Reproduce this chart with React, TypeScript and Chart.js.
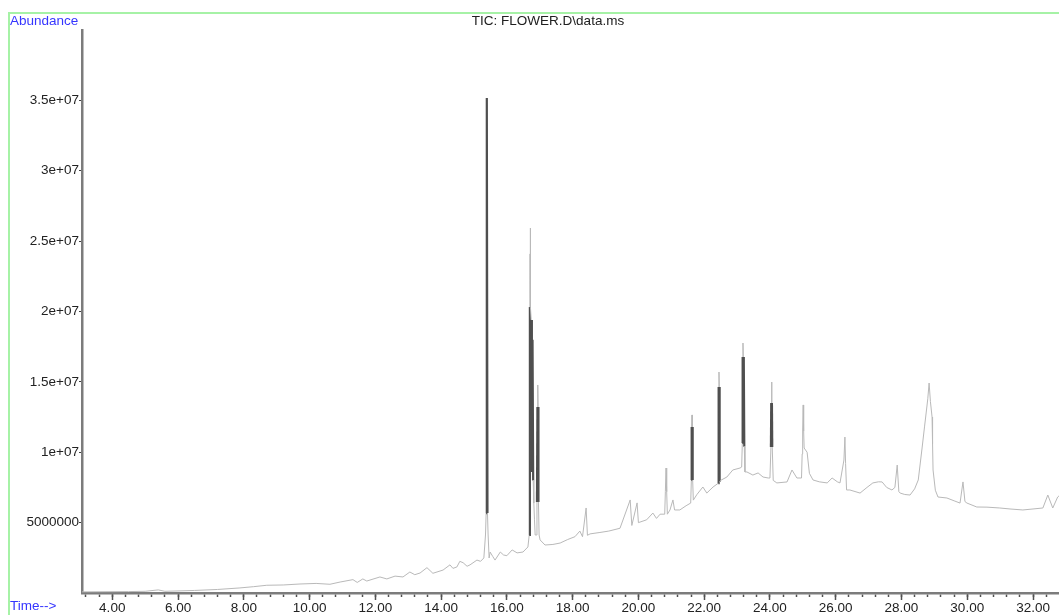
import React, { useEffect, useRef } from 'react';
import { Chart, registerables } from 'chart.js';

Chart.register(...registerables);

// Retention time (min)
const retentionTimes = [
  3.08, 4.5, 5.0, 5.4, 5.6, 6.5, 7.2, 7.88, 8.3, 8.7, 9.2, 9.71, 10.2, 10.62, 10.93, 11.32, 11.45, 11.62, 11.74,
  12.14, 12.35, 12.6, 12.84, 13.05, 13.2, 13.36, 13.57, 13.75, 14.06, 14.27, 14.36, 14.48, 14.57, 14.67, 14.79,
  14.88, 15.09, 15.2, 15.3, 15.35, 15.37, 15.39, 15.41, 15.43, 15.46, 15.49, 15.57, 15.64, 15.8, 15.9, 16.0,
  16.16, 16.31, 16.49, 16.64, 16.68, 16.7, 16.703, 16.706, 16.71, 16.714, 16.718, 16.722, 16.74, 16.76, 16.78,
  16.8, 16.82, 16.84, 16.86, 16.9, 16.915, 16.93, 16.94, 16.95, 16.96, 16.98, 17.01, 17.16, 17.4, 17.62, 17.85,
  18.07, 18.22, 18.3, 18.41, 18.45, 18.53, 18.83, 19.1, 19.44, 19.75, 19.8, 19.96, 20.0, 20.05, 20.25, 20.44,
  20.55, 20.66, 20.8, 20.82, 20.84, 20.86, 20.88, 20.96, 21.05, 21.1, 21.26, 21.45, 21.59, 21.61, 21.62, 21.63,
  21.64, 21.65, 21.67, 21.78, 21.96, 22.08, 22.27, 22.43, 22.44, 22.45, 22.46, 22.47, 22.5, 22.69, 22.87, 23.09,
  23.14, 23.16, 23.17, 23.18, 23.19, 23.2, 23.21, 23.22, 23.24, 23.3, 23.48, 23.64, 23.79, 23.95, 24.0, 24.03,
  24.04, 24.05, 24.06, 24.07, 24.1, 24.21, 24.52, 24.67, 24.82, 24.96, 24.98, 24.995, 25.01, 25.025, 25.04,
  25.13, 25.2, 25.31, 25.5, 25.74, 25.89, 26.05, 26.13, 26.25, 26.28, 26.3, 26.33, 26.43, 26.74, 26.95, 27.13,
  27.3, 27.41, 27.55, 27.71, 27.8, 27.87, 27.92, 27.96, 28.1, 28.26, 28.4, 28.51, 28.63, 28.7, 28.75, 28.8,
  28.84, 28.88, 28.93, 28.945, 28.96, 29.03, 29.11, 29.38, 29.6, 29.78, 29.87, 29.93, 29.99, 30.29, 30.6, 30.99,
  31.3, 31.69, 32.0, 32.3, 32.45, 32.6, 32.75, 32.79,
];

// Total ion current abundance (millions of counts)
const abundanceMillions = [
  0.08, 0.1, 0.12, 0.22, 0.12, 0.18, 0.25, 0.36, 0.45, 0.55, 0.57, 0.64, 0.68, 0.62, 0.78, 0.95, 0.75, 1.0, 0.85,
  1.14, 1.0, 1.2, 1.14, 1.49, 1.3, 1.42, 1.8, 1.4, 1.63, 2.0, 1.75, 1.85, 2.25, 2.15, 1.9,
  2.0, 2.34, 2.25, 2.49, 4.12, 5.68, 35.17, 5.68, 4.12, 2.49, 2.91, 2.6, 2.34, 2.91, 2.7, 2.65,
  3.06, 2.85, 2.91, 3.27, 4.12, 20.32, 22.17, 24.09, 25.93, 24.09, 22.17, 20.32, 19.4, 8.6, 18.0,
  8.0, 6.39, 5.2, 4.12, 4.12, 6.47, 13.21, 14.78, 13.21, 6.47, 4.12, 3.77, 3.41, 3.45, 3.55, 3.8,
  4.0, 4.4, 4.0, 6.04, 4.1, 4.2, 4.3, 4.4, 4.6, 6.61, 4.8, 6.4, 5.0, 5.04, 5.2, 5.68,
  5.3, 5.6, 5.6, 7.2, 8.88, 7.2, 5.6, 5.9, 6.61, 5.9, 5.9, 6.2, 6.39, 8.03, 11.79, 12.65,
  11.79, 8.03, 6.6, 7.0, 7.53, 7.1, 7.53, 7.8, 14.64, 15.7, 14.64, 7.9, 8.0, 8.24, 8.74, 8.88,
  8.95, 10.66, 16.77, 17.76, 16.77, 10.66, 16.4, 10.4, 8.6, 8.6, 8.38, 8.53, 8.24, 8.17, 8.17, 10.37,
  13.5, 14.99, 13.5, 10.37, 8.0, 7.82, 7.89, 8.74, 8.17, 8.17, 9.88, 11.58, 13.36, 11.5, 10.3,
  10.0, 8.5, 8.03, 7.9, 7.82, 8.17, 7.9, 7.82, 9.45, 11.08, 9.2, 7.32, 7.32, 7.1, 7.5, 7.82,
  7.9, 7.89, 7.5, 7.32, 7.5, 9.09, 7.2, 7.1, 7.0, 6.96, 7.4, 8.03, 10.37, 11.8, 12.79, 13.8,
  14.92, 13.6, 12.5, 10.6, 8.74, 7.3, 6.82, 6.75, 6.55, 6.39, 7.89, 6.5, 6.39, 6.11, 6.1, 6.04,
  5.97, 5.9, 5.97, 6.04, 6.96, 6.04, 6.82, 6.9,
];

const yTickValues = [5000000, 10000000, 15000000, 20000000, 25000000, 30000000, 35000000];
const xMajorTickValues = [4, 6, 8, 10, 12, 14, 16, 18, 20, 22, 24, 26, 28, 30, 32];
const chartTitle = 'TIC: FLOWER.D\\data.ms';
const yAxisTitle = 'Abundance';
const xAxisTitle = 'Time-->';

const X_MIN = 3.08;
const X_MAX = 32.79;
const Y_MAX = 40000000;
const FONT = '"Liberation Sans", Arial, sans-serif';
const FONT_SIZE = 13.5;

const formatAbundance = (v: number) => {
  if (v < 10000000) return String(v);
  return v / 10000000 + 'e+07';
};

const decorPlugin = {
  id: 'decor',
  beforeDraw(chart: any) {
    const ctx = chart.ctx as CanvasRenderingContext2D;
    ctx.save();
    ctx.fillStyle = '#ffffff';
    ctx.fillRect(0, 0, chart.width, chart.height);
    ctx.strokeStyle = '#a6f2a6';
    ctx.lineWidth = 2;
    ctx.beginPath();
    ctx.moveTo(9, chart.height + 5);
    ctx.lineTo(9, 13);
    ctx.lineTo(chart.width + 5, 13);
    ctx.stroke();
    ctx.restore();
  },
  afterDraw(chart: any) {
    const ctx = chart.ctx as CanvasRenderingContext2D;
    ctx.save();
    ctx.font = `${FONT_SIZE}px ${FONT}`;
    ctx.textBaseline = 'alphabetic';
    ctx.fillStyle = '#3535ff';
    ctx.textAlign = 'left';
    ctx.fillText(yAxisTitle, 10, 25);
    ctx.fillText(xAxisTitle, 10, 610);
    ctx.fillStyle = '#202020';
    ctx.textAlign = 'center';
    ctx.fillText(chartTitle, 548, 25);
    ctx.restore();
  },
};

export default function App() {
  const canvasRef = useRef<HTMLCanvasElement | null>(null);

  useEffect(() => {
    if (!canvasRef.current) return;
    const points = retentionTimes.map((t, i) => ({ x: t, y: abundanceMillions[i] * 1000000 }));
    const steep = (c: any) => Math.abs(c.p1.y - c.p0.y) > 40;
    const minorTicks: number[] = [];
    for (let k = 0; k < 80; k++) {
      const v = Math.round((3.2 + k * 0.4) * 10) / 10;
      if (v <= X_MAX) minorTicks.push(v);
    }
    const chart = new Chart(canvasRef.current, {
      type: 'line',
      data: {
        datasets: [
          {
            data: points,
            xAxisID: 'x',
            yAxisID: 'y',
            borderColor: '#b9b9b9',
            borderWidth: 1,
            pointRadius: 0,
            tension: 0,
            fill: false,
            segment: {
              borderColor: (c: any) => (steep(c) ? '#4f4f4f' : '#b9b9b9'),
              borderWidth: (c: any) => (steep(c) ? 2.2 : 1),
            },
          },
        ],
      },
      options: {
        animation: false,
        responsive: false,
        layout: { padding: { top: 30, left: 0, right: 0, bottom: 0 } },
        plugins: { legend: { display: false }, tooltip: { enabled: false }, title: { display: false } },
        scales: {
          x: {
            type: 'linear',
            position: 'bottom',
            weight: 0,
            min: X_MIN,
            max: X_MAX,
            afterBuildTicks: (s: any) => {
              s.ticks = minorTicks.map((v) => ({ value: v }));
            },
            afterFit: (s: any) => {
              s.height = 0;
            },
            ticks: { display: false, autoSkip: false },
            grid: { drawOnChartArea: false, drawTicks: true, tickLength: 4, tickColor: '#505050', tickWidth: 1.5 },
            border: { display: true, color: '#7c7c7c', width: 2.5 },
          },
          xMajor: {
            type: 'linear',
            position: 'bottom',
            weight: 1,
            min: X_MIN,
            max: X_MAX,
            afterBuildTicks: (s: any) => {
              s.ticks = xMajorTickValues.map((v) => ({ value: v }));
            },
            afterFit: (s: any) => {
              s.height = 22;
            },
            ticks: {
              autoSkip: false,
              maxRotation: 0,
              padding: 0,
              color: '#222222',
              font: { family: FONT, size: FONT_SIZE },
              callback: (v: any) => Number(v).toFixed(2),
            },
            grid: { drawOnChartArea: false, drawTicks: true, tickLength: 7, tickColor: '#505050', tickWidth: 1.5 },
            border: { display: false },
          },
          y: {
            type: 'linear',
            position: 'left',
            min: 0,
            max: Y_MAX,
            afterBuildTicks: (s: any) => {
              s.ticks = yTickValues.map((v) => ({ value: v }));
            },
            afterFit: (s: any) => {
              s.width = 82;
            },
            ticks: {
              autoSkip: false,
              padding: 0,
              color: '#222222',
              font: { family: FONT, size: FONT_SIZE },
              callback: (v: any) => formatAbundance(Number(v)),
            },
            grid: { drawOnChartArea: false, drawTicks: true, tickLength: 3, tickColor: '#404040', tickWidth: 1 },
            border: { display: true, color: '#7c7c7c', width: 2.5 },
          },
        },
      },
      plugins: [decorPlugin],
    });
    return () => chart.destroy();
  }, []);

  return (
    <div style={{ position: 'fixed', left: 0, top: 0, width: 1059, height: 615, background: '#fff' }}>
      <canvas ref={canvasRef} width={1059} height={615} style={{ display: 'block' }} />
    </div>
  );
}
